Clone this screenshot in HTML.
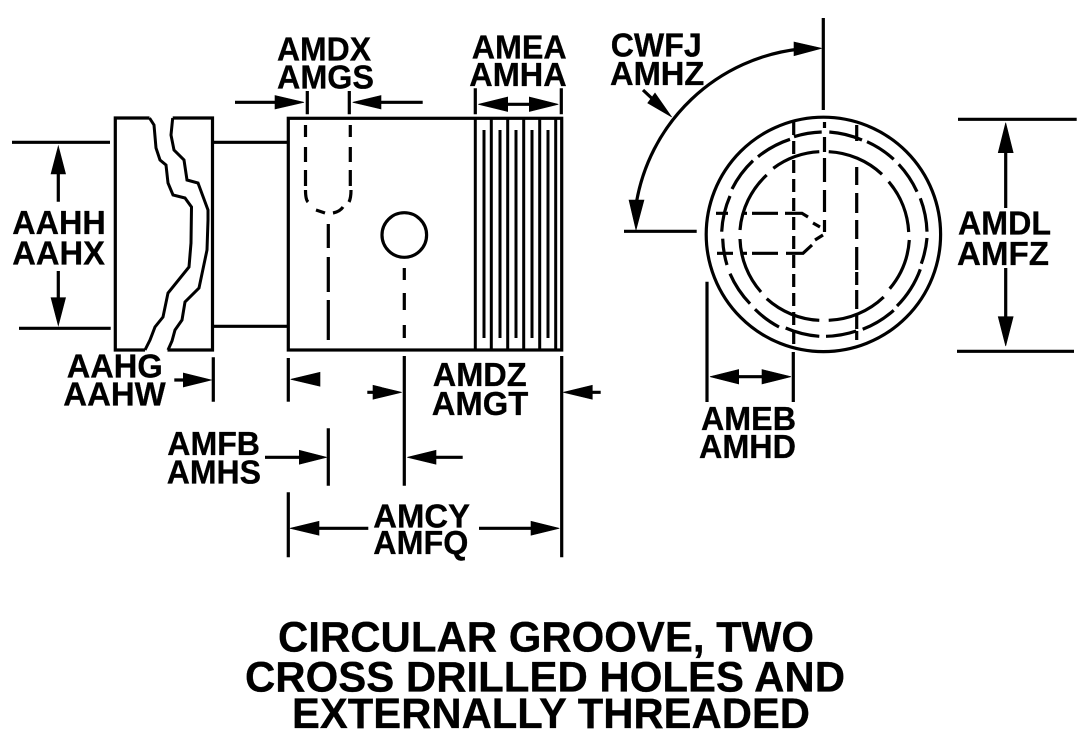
<!DOCTYPE html>
<html><head><meta charset="utf-8"><style>
html,body{margin:0;padding:0;background:#fff}
svg{display:block}
text{font-family:"Liberation Sans",Arial,sans-serif;font-weight:bold;fill:#000;stroke:#000;stroke-width:.3;font-size:33.5px}
.t{font-size:43px}
.l{stroke:#000;stroke-width:3.2;fill:none}
.th{stroke:#000;stroke-width:3;fill:none}
polygon{stroke:#000;stroke-width:.6}
</style></head><body>
<svg width="1089" height="746" viewBox="0 0 1089 746" xmlns="http://www.w3.org/2000/svg">
<rect width="1089" height="746" fill="#fff"/>

<!-- flange -->
<path class="l" d="M145,350H115.3V118H149.5M172.7,118H212.5V350H167.5"/>
<path class="th" d="M149.5,118L154,125L156,148L160,160L166,165L168,183L173,195L185,198L191.5,207L191,243L189,267L168,293L163,317L155,327L150,340L145,350"/>
<path class="th" d="M172.7,118L171,135L174,150L184,160L187,180L198,183L208,210L208,220L207,250L199,288L185,302L182,320L175,330L172,341L168,350"/>
<path class="l" d="M213,142.3H288M213,326.3H288"/>
<path class="l" d="M12,142.3H110M19,328.3H110.7"/>

<!-- body -->
<rect class="l" x="288.3" y="118.3" width="273.4" height="231.7"/>
<path class="th" d="M475.3,118V350M491.3,118V350M507.7,118V350M523.7,118V350M539.7,118V350M555.7,118V350"/>
<path class="th" d="M484,130V338M500,130V338M516,130V338M532,130V338M548,130V338"/>
<circle class="l" cx="404.3" cy="235" r="22.3"/>
<path class="l" d="M305.5,125V137M305.5,147V162M305.5,170V186M305.5,190C305.5,196 306,200 308,202M316,210L325,213M333,213C338,212 341,210 343,207M349,202C350.5,199 351,195 351,190M350.3,186V170M350.3,162V147M350.3,137V125"/>
<path class="l" d="M328.3,224V248M328.3,257V292M328.3,300V340"/>
<path class="l" d="M404.3,268V280M404.3,293V310M404.3,325V338"/>

<!-- end view -->
<circle class="l" cx="823.4" cy="234.4" r="117.2"/>
<g class="l">
<path d="M727,265A102,102 0 0 1 722.7,238.7"/>
<path d="M721.7,231.7A102,102 0 0 1 730,196"/>
<path d="M732,189A102,102 0 0 1 753,160.7"/>
<path d="M758,156.7A102,102 0 0 1 790,139.3"/>
<path d="M794,136.7A102,102 0 0 1 821.7,132"/>
<path d="M829.3,132A102,102 0 0 1 862,140"/>
<path d="M867,141.7A102,102 0 0 1 893.7,159.3"/>
<path d="M898.7,164.3A102,102 0 0 1 917,191.7"/>
<path d="M920.3,198.3A102,102 0 0 1 927,231.7"/>
<path d="M927,238A102,102 0 0 1 921.3,263.7"/>
<path d="M920.3,269.3A102,102 0 0 1 897,306"/>
<path d="M893.7,310.3A102,102 0 0 1 862.7,329.3"/>
<path d="M856.3,331A102,102 0 0 1 826,336.3"/>
<path d="M819.3,336.3A102,102 0 0 1 785.7,328"/>
<path d="M779,327A102,102 0 0 1 755,309.3"/>
<path d="M750,303.7A102,102 0 0 1 730,273.7"/>
<path d="M761,292A84,84 0 0 1 740,239"/>
<path d="M740,230A84,84 0 0 1 766.7,175"/>
<path d="M773.3,168.3A84,84 0 0 1 819.3,151.7"/>
<path d="M828.7,151.7A84,84 0 0 1 882,174.3"/>
<path d="M888.7,181.7A84,84 0 0 1 908.7,232"/>
<path d="M909.3,240A84,84 0 0 1 889.7,288.7"/>
<path d="M883.7,297A84,84 0 0 1 828.7,320.3"/>
<path d="M819.3,320.3A84,84 0 0 1 766.7,298.7"/>
</g>
<path class="l" d="M793.7,122V345" stroke-dasharray="13 6"/>
<path class="l" d="M824.5,122V128M824.5,137V152M824.5,158V182M824.5,190V212M824.5,220V232"/>
<path class="l" d="M856.7,125V141M856.7,167V185M856.7,193V213M856.7,220V239M856.7,247V270M856.7,272V285M856.7,290V309M856.7,315V329M856.7,331V340"/>
<path class="l" d="M716,213.3H728M742,213.3H747M752,213.3H778M785,213.3H802L808,217M813,223L820,227"/>
<path class="l" d="M717,253.3H733M742,253.3H747M752,253.3H778M786,253.3H803L812,245M815,240L823,235"/>

<!-- angle -->
<path class="l" d="M823.3,18V110M624,231.3H696.7"/>
<path class="l" d="M800,49A186,186 0 0 0 636,205"/>
<polygon points="821.7,48.3 794,42 794,55.7"/>
<polygon points="636,230 629,200 644,200"/>
<path class="l" d="M643,90L660,106"/>
<polygon points="671.7,117 655,93 647.7,103"/>

<!-- dimension lines -->
<path class="l" d="M235,102.3H280M381,102.3H422.7M307.3,91V114.3M349.3,91V114.3"/>
<polygon points="304,102.3 275,95.5 275,109"/>
<polygon points="352.7,102.3 381,95.5 381,109"/>
<path class="l" d="M475.3,88.3V114.3M561.3,88.3V114.3M505,104.3H532"/>
<polygon points="478.3,104.3 507.7,97 507.7,111.5"/>
<polygon points="558.3,104.3 529.3,97 529.3,111.5"/>

<path class="l" d="M58.3,170V201.7M58.3,271V300"/>
<polygon points="58.3,146 51,174 65.6,174"/>
<polygon points="58.3,325.7 51,297.7 65.6,297.7"/>

<path class="l" d="M174.3,380H190M213.3,357.3V401.7"/>
<polygon points="211.7,380 183.3,373 183.3,387"/>
<path class="l" d="M288.3,358V401.7"/>
<polygon points="290.7,379.3 320,372.3 320,386.3"/>
<path class="l" d="M404.3,356V485.7M561.7,356V557.3M367.3,392.3H380M590,392.3H600.7"/>
<polygon points="401.7,392.3 373,385.3 373,399.3"/>
<polygon points="563.3,392.3 592.3,385.3 592.3,399.3"/>
<path class="l" d="M328.3,428.3V485.7M265,457.3H302M434,457.3H462.7"/>
<polygon points="326.7,457.3 299.3,450.3 299.3,464.3"/>
<polygon points="407.3,457.3 436,450.3 436,464.3"/>
<path class="l" d="M288.3,492.3V557.3M316,528.3H368.3M479,528.3H534"/>
<polygon points="290,528.3 319,521.3 319,535.3"/>
<polygon points="559.3,528.3 531,521.3 531,535.3"/>

<path class="l" d="M958,119.3H1076.7M957,351.3H1074M1005.7,150V208M1005.7,268V319"/>
<polygon points="1005.7,122.7 998.2,152.7 1013.2,152.7"/>
<polygon points="1005.7,346 998.2,316.7 1013.2,316.7"/>

<path class="l" d="M707,281.7V402M793.3,352V402M736,376.7H765"/>
<polygon points="710,376.7 738.7,369.5 738.7,384"/>
<polygon points="791,376.7 762,369.5 762,384"/>

<!-- labels -->
<text x="277" y="60.7" textLength="94" lengthAdjust="spacingAndGlyphs">AMDX</text>
<text x="277" y="88.3" textLength="97" lengthAdjust="spacingAndGlyphs">AMGS</text>
<text x="471.7" y="58.3" textLength="95" lengthAdjust="spacingAndGlyphs">AMEA</text>
<text x="469.3" y="86" textLength="97.4" lengthAdjust="spacingAndGlyphs">AMHA</text>
<text x="610.7" y="56.7" textLength="91" lengthAdjust="spacingAndGlyphs">CWFJ</text>
<text x="610" y="85" textLength="94.3" lengthAdjust="spacingAndGlyphs">AMHZ</text>
<text x="12.3" y="234" textLength="93.4" lengthAdjust="spacingAndGlyphs">AAHH</text>
<text x="12.3" y="264.7" textLength="92.7" lengthAdjust="spacingAndGlyphs">AAHX</text>
<text x="958" y="234.7" textLength="93" lengthAdjust="spacingAndGlyphs">AMDL</text>
<text x="957" y="265" textLength="92" lengthAdjust="spacingAndGlyphs">AMFZ</text>
<text x="66.7" y="377.3" textLength="96" lengthAdjust="spacingAndGlyphs">AAHG</text>
<text x="63.3" y="405.3" textLength="102.4" lengthAdjust="spacingAndGlyphs">AAHW</text>
<text x="432.7" y="386" textLength="94" lengthAdjust="spacingAndGlyphs">AMDZ</text>
<text x="431.7" y="415" textLength="96.6" lengthAdjust="spacingAndGlyphs">AMGT</text>
<text x="167.3" y="455" textLength="92.7" lengthAdjust="spacingAndGlyphs">AMFB</text>
<text x="166.7" y="483.3" textLength="94.3" lengthAdjust="spacingAndGlyphs">AMHS</text>
<text x="373.3" y="527.7" textLength="96.7" lengthAdjust="spacingAndGlyphs">AMCY</text>
<text x="373.3" y="554" textLength="95" lengthAdjust="spacingAndGlyphs">AMFQ</text>
<text x="701" y="430" textLength="95" lengthAdjust="spacingAndGlyphs">AMEB</text>
<text x="699" y="458" textLength="97" lengthAdjust="spacingAndGlyphs">AMHD</text>

<text class="t" x="278" y="651.7" textLength="536" lengthAdjust="spacingAndGlyphs">CIRCULAR GROOVE, TWO</text>
<text class="t" x="245" y="691.7" textLength="600" lengthAdjust="spacingAndGlyphs">CROSS DRILLED HOLES AND</text>
<text class="t" x="292" y="728" textLength="518" lengthAdjust="spacingAndGlyphs">EXTERNALLY THREADED</text>
</svg>
</body></html>
